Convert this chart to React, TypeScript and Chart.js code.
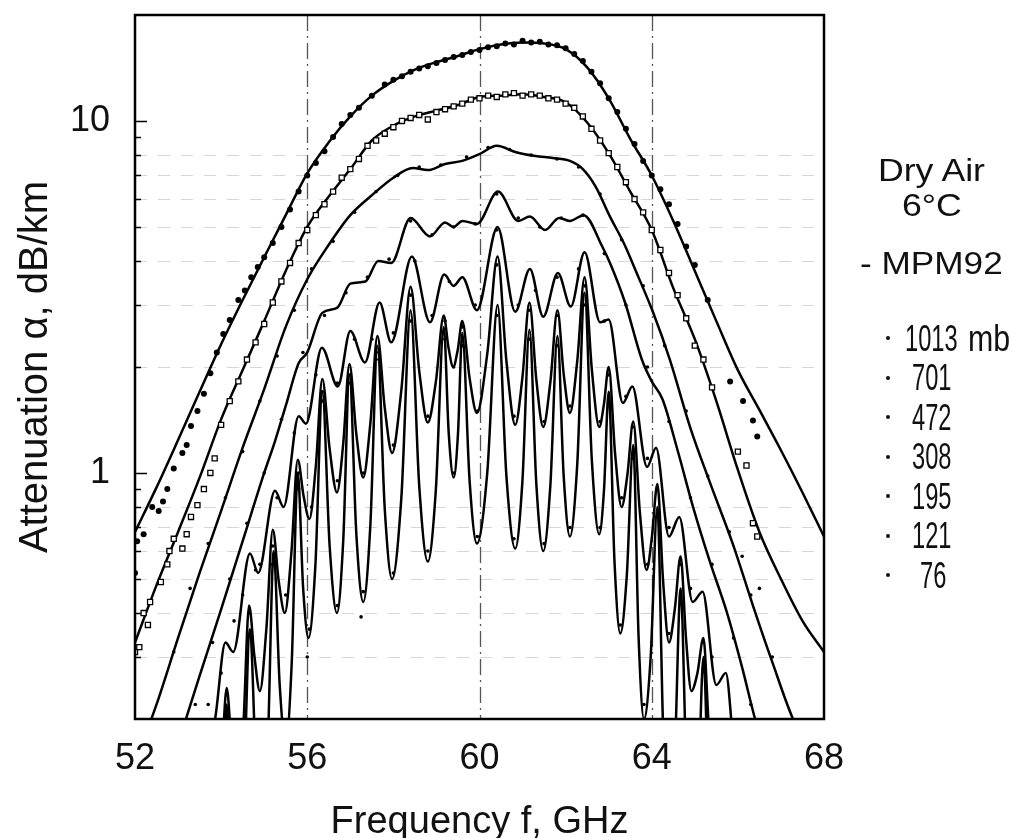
import React, { useEffect, useRef } from "react";
import { Chart, registerables } from "chart.js";

Chart.register(...registerables);

const FONT = "'Liberation Sans', Arial, Helvetica, sans-serif";

// ---- axes ----
const xMin = 52;
const xMax = 68;
const yMin = 0.2;
const yMax = 20;
const xTickValues = [52, 56, 60, 64, 68];
const xGridValues = [56, 60, 64];
const yLabelValues = [1, 10];
const yMinorValues = [0.3, 0.4, 0.5, 0.6, 0.7, 0.8, 0.9, 2, 3, 4, 5, 6, 7, 8, 9];
const yGridValues = [0.3, 0.4, 0.5, 0.6, 0.7, 0.8, 2, 3, 4, 5, 6, 7, 8];

// ---- MPM92 model curves (frequency GHz, attenuation dB/km) ----
const fM1013 = [52, 52.5, 53, 53.5, 54, 54.5, 55, 55.5, 56, 56.5, 57, 57.5, 58, 58.5, 59, 59.5, 60, 60.5, 61, 61.5, 62, 62.5, 63, 63.5, 64, 64.5, 65, 65.5, 66, 66.5, 67, 67.5, 68];
const aM1013 = [0.68, 0.91, 1.24, 1.7, 2.32, 3.1, 4.1, 5.4, 7.1, 8.7, 10.3, 11.8, 13.0, 14.0, 14.7, 15.3, 16.0, 16.5, 16.7, 16.6, 16.0, 14.2, 11.6, 8.9, 7.0, 5.2, 3.75, 2.7, 1.96, 1.51, 1.16, 0.88, 0.66];

const fM701 = [52, 52.5, 53, 53.5, 54, 54.5, 55, 55.5, 56, 56.5, 57, 57.5, 58, 58.5, 59, 59.5, 60, 60.5, 61, 61.5, 62, 62.5, 63, 63.5, 64, 64.5, 65, 65.5, 66, 66.5, 67, 67.5, 68];
const aM701 = [0.33, 0.48, 0.68, 0.97, 1.42, 1.96, 2.7, 3.75, 5.0, 6.1, 7.3, 8.8, 9.7, 10.3, 10.7, 11.1, 11.7, 11.8, 11.9, 11.7, 11.3, 9.9, 8.1, 6.3, 4.9, 3.35, 2.4, 1.6, 1.02, 0.68, 0.5, 0.38, 0.31];

const fM472 = [52, 52.5, 53, 53.5, 54, 54.5, 55, 55.5, 56, 56.5, 57, 57.5, 58, 58.45, 58.8, 59.2, 59.6, 60.0, 60.4, 60.85, 61.3, 61.7, 62.1, 62.4, 62.7, 63.03, 63.35, 63.65, 64.03, 64.42, 64.89, 65.35, 65.9, 66.35, 66.8, 67.28, 67.7, 68];
const aM472 = [0.15, 0.22, 0.34, 0.52, 0.78, 1.18, 1.73, 2.6, 3.55, 4.45, 5.4, 6.15, 6.9, 7.35, 7.25, 7.55, 7.7, 8.05, 8.5, 8.15, 7.95, 7.85, 7.7, 7.3, 6.5, 5.35, 4.5, 3.7, 2.86, 2.1, 1.35, 0.94, 0.62, 0.42, 0.29, 0.2, 0.16, 0.14];

const fM308 = [53, 53.5, 54, 54.5, 55, 55.25, 55.5, 55.8, 56.0, 56.35, 56.7, 57.0, 57.35, 57.65, 57.95, 58.4, 58.85, 59.2, 59.4, 59.6, 59.94, 60.43, 60.9, 61.17, 61.52, 61.85, 62.1, 62.42, 62.85, 63.05, 63.38, 63.77, 64.0, 64.25, 64.6, 64.96, 65.35, 65.75, 66.1, 66.4, 66.8];
const aM308 = [0.17, 0.265, 0.41, 0.64, 1.0, 1.23, 1.55, 2.05, 2.2, 2.85, 2.95, 3.45, 3.5, 4.0, 3.95, 5.3, 4.7, 5.15, 5.0, 5.2, 5.1, 6.3, 5.2, 5.35, 4.9, 5.3, 5.2, 5.4, 4.4, 3.9, 3.05, 2.1, 1.82, 1.62, 1.16, 0.8, 0.56, 0.4, 0.28, 0.2, 0.14];

const fM195 = [53.6, 53.86, 54.1, 54.28, 54.67, 54.86, 55.25, 55.45, 55.8, 55.97, 56.34, 56.71, 57.0, 57.34, 57.68, 57.95, 58.43, 58.85, 59.18, 59.4, 59.6, 59.94, 60.42, 60.83, 61.17, 61.48, 61.82, 62.12, 62.44, 62.8, 63.0, 63.33, 63.55, 63.89, 64.1, 64.4, 64.64, 64.95, 65.18, 65.5, 65.72, 65.9, 66.1];
const aM195 = [0.15, 0.2, 0.33, 0.31, 0.59, 0.52, 0.89, 0.8, 1.45, 1.38, 2.27, 1.76, 2.53, 2.06, 3.05, 2.35, 4.12, 2.68, 3.66, 3.4, 3.6, 2.9, 5.0, 2.87, 3.8, 2.78, 3.7, 2.97, 4.24, 2.68, 2.73, 1.58, 1.76, 1.04, 1.18, 0.66, 0.75, 0.43, 0.46, 0.25, 0.27, 0.17, 0.12];

const m121: [number, number][] = [
  [53.9, 0.12], [54.015, 0.157], [54.13, 0.245], [54.255, 0.157], [54.38, 0.12], [54.515, 0.19], [54.65, 0.42], [54.775, 0.3], [54.9, 0.24], [55.05, 0.36],
  [55.2, 0.69], [55.34, 0.49], [55.48, 0.4], [55.63, 0.59], [55.78, 1.09], [55.915, 0.86], [56.05, 0.74], [56.2, 1.05], [56.35, 1.85], [56.52, 1.17],
  [56.69, 0.88], [56.835, 1.21], [56.98, 2.04], [57.14, 1.29], [57.3, 0.97], [57.465, 1.38], [57.63, 2.45], [57.8, 1.53], [57.97, 1.14], [58.185, 1.72],
  [58.4, 3.38], [58.6, 1.95], [58.8, 1.39], [58.985, 1.81], [59.17, 2.8], [59.28, 2.27], [59.39, 2.0], [59.495, 2.24], [59.6, 2.7], [59.77, 1.86],
  [59.94, 1.48], [60.18, 2.18], [60.42, 4.12], [60.625, 2.08], [60.83, 1.37], [60.995, 1.86], [61.16, 3.05], [61.32, 1.84], [61.48, 1.35], [61.645, 1.81],
  [61.81, 2.9], [61.955, 1.91], [62.1, 1.48], [62.27, 2.08], [62.44, 3.6], [62.61, 1.96], [62.78, 1.35], [62.89, 1.57], [63.0, 2.0], [63.15, 1.13],
  [63.3, 0.8], [63.435, 0.99], [63.57, 1.4], [63.725, 0.77], [63.88, 0.53], [64.005, 0.66], [64.13, 0.93], [64.265, 0.49], [64.4, 0.33], [64.535, 0.41],
  [64.67, 0.58], [64.795, 0.34], [64.92, 0.24], [65.06, 0.27], [65.2, 0.34], [65.325, 0.19], [65.45, 0.13], [65.6, 0.143], [65.75, 0.17], [65.875, 0.105],
  [66.0, 0.08],
];

const m76: [number, number][] = [
  [53.95, 0.08], [54.04, 0.108], [54.13, 0.22], [54.24, 0.098], [54.35, 0.07], [54.51, 0.114], [54.67, 0.36], [54.81, 0.147], [54.95, 0.1], [55.085, 0.171],
  [55.22, 0.6], [55.36, 0.25], [55.5, 0.17], [55.64, 0.29], [55.78, 1.0], [55.905, 0.47], [56.03, 0.34], [56.19, 0.55], [56.35, 1.7], [56.52, 0.62],
  [56.69, 0.4], [56.835, 0.64], [56.98, 1.9], [57.14, 0.67], [57.3, 0.43], [57.465, 0.71], [57.63, 2.3], [57.8, 0.79], [57.97, 0.5], [58.185, 0.85],
  [58.4, 2.9], [58.6, 0.92], [58.8, 0.56], [58.985, 0.89], [59.17, 2.6], [59.285, 1.3], [59.4, 0.97], [59.5, 1.29], [59.6, 2.5], [59.77, 0.95],
  [59.94, 0.63], [60.18, 1.0], [60.42, 3.0], [60.625, 0.98], [60.83, 0.61], [60.995, 0.94], [61.16, 2.55], [61.32, 0.93], [61.48, 0.6], [61.645, 0.92],
  [61.81, 2.45], [61.955, 0.98], [62.1, 0.66], [62.27, 1.06], [62.44, 3.25], [62.61, 1.08], [62.78, 0.67], [62.89, 0.89], [63.0, 1.7], [63.135, 0.56],
  [63.27, 0.35], [63.42, 0.51], [63.57, 1.2], [63.695, 0.34], [63.82, 0.2], [63.975, 0.3], [64.13, 0.8], [64.265, 0.187], [64.4, 0.1], [64.535, 0.159],
  [64.67, 0.47], [64.81, 0.137], [64.95, 0.08], [65.075, 0.119], [65.2, 0.3], [65.34, 0.097], [65.48, 0.06], [65.615, 0.085], [65.75, 0.19], [65.875, 0.075],
  [66.0, 0.05],
];

// ---- measured data ----
const fP1013 = [52.0, 52.05, 52.2, 52.4, 52.55, 52.65, 52.75, 52.9, 53.1, 53.2, 53.3, 53.45, 53.6, 53.75, 53.9, 54.05, 54.2, 54.4, 54.55, 54.7, 54.85, 55.0, 55.2, 55.4, 55.6, 55.8, 56.0, 56.2, 56.4, 56.6, 56.8, 57.0, 57.2, 57.5, 57.8, 58.0, 58.2, 58.4, 58.6, 58.8, 59.0, 59.2, 59.4, 59.6, 59.8, 60.0, 60.2, 60.4, 60.6, 60.8, 61.0, 61.2, 61.4, 61.6, 61.8, 62.0, 62.2, 62.4, 62.6, 62.8, 63.0, 63.2, 63.4, 63.6, 63.8, 64.0, 64.2, 64.4, 64.6, 64.8, 65.0, 65.3, 65.82, 66.12, 66.35, 66.45];
const aP1013 = [0.52, 0.64, 0.67, 0.8, 0.78, 0.83, 0.9, 1.03, 1.14, 1.2, 1.36, 1.5, 1.68, 1.92, 2.2, 2.48, 2.72, 3.1, 3.3, 3.6, 3.85, 4.1, 4.5, 5.0, 5.6, 6.3, 7.0, 7.6, 8.2, 9.0, 9.8, 10.4, 10.9, 11.8, 12.7, 13.1, 13.4, 13.8, 14.1, 14.3, 14.6, 14.9, 15.2, 15.4, 15.7, 15.9, 16.2, 16.3, 16.6, 16.5, 16.9, 16.7, 16.8, 16.5, 16.4, 16.1, 15.5, 14.8, 13.8, 12.8, 11.6, 10.6, 9.5, 8.6, 7.7, 7.0, 6.4, 5.8, 5.1, 4.4, 3.9, 3.1, 1.82, 1.6, 1.41, 1.27];

const fP701 = [52.0, 52.1, 52.2, 52.3, 52.35, 52.6, 52.75, 52.8, 52.9, 53.1, 53.2, 53.3, 53.45, 53.6, 53.75, 53.85, 54.0, 54.2, 54.4, 54.6, 54.8, 55.0, 55.2, 55.4, 55.6, 55.8, 56.0, 56.2, 56.4, 56.6, 56.8, 57.0, 57.2, 57.4, 57.6, 57.8, 58.0, 58.2, 58.4, 58.6, 58.8, 59.0, 59.2, 59.4, 59.6, 59.8, 60.0, 60.2, 60.4, 60.6, 60.8, 61.0, 61.2, 61.4, 61.6, 61.8, 62.0, 62.2, 62.4, 62.6, 62.8, 63.0, 63.2, 63.4, 63.6, 63.8, 64.0, 64.2, 64.4, 64.6, 64.8, 65.0, 65.2, 65.4, 66.0, 66.2, 66.35, 66.45];
const aP701 = [0.31, 0.32, 0.4, 0.37, 0.43, 0.49, 0.55, 0.6, 0.65, 0.61, 0.67, 0.75, 0.81, 0.9, 1.0, 1.1, 1.37, 1.6, 1.82, 2.1, 2.35, 2.65, 3.05, 3.5, 3.95, 4.5, 4.9, 5.4, 5.8, 6.3, 6.9, 7.3, 7.8, 8.5, 8.8, 9.2, 9.6, 10.0, 10.2, 10.4, 10.1, 10.6, 10.8, 11.0, 11.2, 11.5, 11.6, 11.8, 11.7, 11.9, 12.0, 11.8, 11.9, 11.8, 11.6, 11.5, 11.2, 10.9, 10.3, 9.5, 8.8, 8.1, 7.4, 6.7, 6.0, 5.5, 4.9, 4.3, 3.7, 3.2, 2.75, 2.3, 2.1, 1.75, 1.15, 1.05, 0.72, 0.66];

const fP472 = [52.9, 53.28, 53.7, 54.1, 54.5, 54.9, 55.3, 55.7, 56.1, 56.6, 57.1, 57.6, 58.1, 58.6, 59.1, 59.7, 60.2, 60.7, 61.2, 61.8, 62.3, 62.8, 63.3, 63.8, 64.3, 64.8, 65.3, 65.8, 66.1, 66.3, 66.5, 66.8];
const aP472 = [0.31, 0.47, 0.63, 0.85, 1.15, 1.6, 2.15, 2.9, 3.8, 4.55, 5.5, 6.3, 7.0, 7.4, 7.5, 7.9, 8.4, 8.3, 8.0, 7.8, 7.4, 6.2, 4.6, 3.4, 2.3, 1.5, 0.98, 0.68, 0.58, 0.45, 0.47, 0.3];

const fP308 = [53.4, 53.8, 54.2, 54.6, 55.0, 55.4, 55.9, 56.4, 56.9, 57.4, 57.9, 58.4, 58.9, 59.4, 59.9, 60.4, 60.9, 61.4, 61.9, 62.4, 62.9, 63.4, 63.9, 64.4, 64.9, 65.4, 65.9, 66.3];
const aP308 = [0.22, 0.33, 0.5, 0.72, 1.0, 1.42, 2.2, 2.8, 3.25, 3.6, 4.05, 5.2, 4.75, 5.0, 5.1, 6.2, 5.3, 5.0, 5.3, 5.4, 4.2, 3.0, 2.0, 1.4, 0.85, 0.55, 0.34, 0.22];

const fP195 = [53.7, 54.0, 54.3, 54.5, 54.8, 54.9, 55.3, 55.7, 56.2, 56.7, 57.1, 57.5, 58.0, 58.5, 58.9, 59.3, 59.9, 60.4, 60.9, 61.3, 61.8, 62.3, 62.9, 63.4, 63.9, 64.4, 64.9, 65.4];
const aP195 = [0.22, 0.27, 0.38, 0.45, 0.53, 0.55, 0.85, 1.3, 1.9, 1.8, 2.4, 2.4, 2.5, 4.0, 2.8, 3.5, 3.0, 4.9, 3.0, 3.3, 3.6, 3.8, 2.7, 1.65, 1.1, 0.7, 0.47, 0.3];

const fP121 = [54.2, 54.65, 55.2, 55.5, 55.8, 56.1, 56.35, 56.7, 57.0, 57.3, 57.6, 58.0, 58.4, 58.8, 59.2, 59.4, 59.6, 59.95, 60.4, 60.8, 61.15, 61.5, 61.8, 62.1, 62.45, 62.8, 63.0, 63.3, 63.55, 63.9, 64.13, 64.4, 64.67, 65.2];
const aP121 = [0.2, 0.4, 0.62, 0.45, 1.0, 0.8, 1.7, 0.95, 1.9, 1.0, 2.2, 1.2, 3.2, 1.45, 2.7, 2.0, 2.6, 1.5, 3.9, 1.45, 2.9, 1.4, 2.8, 1.55, 3.4, 1.4, 1.9, 0.85, 1.35, 0.55, 0.9, 0.35, 0.55, 0.33];

const fP76 = [55.2, 55.8, 56.0, 56.05, 56.35, 56.7, 57.0, 57.25, 57.3, 57.6, 58.0, 58.4, 58.8, 59.2, 59.4, 59.6, 59.95, 60.4, 60.8, 61.15, 61.5, 61.8, 62.1, 62.45, 62.8, 63.0, 63.27, 63.55, 63.82, 64.13, 64.67, 65.2];
const aP76 = [0.55, 0.9, 0.3, 0.36, 1.6, 0.42, 1.8, 0.39, 0.46, 2.1, 0.52, 2.7, 0.6, 2.4, 1.0, 2.3, 0.66, 2.8, 0.65, 2.4, 0.63, 2.3, 0.7, 3.0, 0.7, 1.6, 0.37, 1.1, 0.22, 0.75, 0.44, 0.28];

// ---- legend text ----
const legendPressures = ["1013", "701", "472", "308", "195", "121", "76"];

const toXY = (f: number[], a: number[]) => f.map((x, i) => ({ x, y: a[i] }));
const pairsXY = (p: [number, number][]) => p.map(([x, y]) => ({ x, y }));

const modelLine = (label: string, data: { x: number; y: number }[]) => ({
  label,
  data,
  borderColor: "#000",
  borderWidth: 2.5,
  pointRadius: 0,
  pointHitRadius: 0,
  fill: false,
  cubicInterpolationMode: "monotone",
  clip: 0,
  order: 2,
});

const measured = (label: string, f: number[], a: number[], style: any) => ({
  label,
  data: toXY(f, a),
  showLine: false,
  clip: 0,
  order: 1,
  ...style,
});

const framePlugin = {
  id: "frameGridTicks",
  beforeDatasetsDraw(chart: any) {
    const { ctx, chartArea: ca, scales } = chart;
    const xs = scales.x;
    const ys = scales.y;
    ctx.save();
    ctx.strokeStyle = "rgba(0,0,0,0.16)";
    ctx.lineWidth = 1;
    ctx.setLineDash([12, 11]);
    for (const v of yGridValues) {
      const y = Math.round(ys.getPixelForValue(v)) + 0.5;
      ctx.beginPath();
      ctx.moveTo(ca.left, y);
      ctx.lineTo(ca.right, y);
      ctx.stroke();
    }
    ctx.strokeStyle = "#555";
    ctx.lineWidth = 1.3;
    ctx.setLineDash([16, 5, 2, 5]);
    for (const v of xGridValues) {
      const x = Math.round(xs.getPixelForValue(v)) + 0.5;
      ctx.beginPath();
      ctx.moveTo(x, ca.top);
      ctx.lineTo(x, ca.bottom);
      ctx.stroke();
    }
    ctx.restore();
  },
  afterDatasetsDraw(chart: any) {
    const { ctx, chartArea: ca, scales } = chart;
    const ys = scales.y;
    ctx.save();
    ctx.setLineDash([]);
    ctx.strokeStyle = "#000";
    ctx.lineWidth = 1.5;
    for (const v of yMinorValues) {
      const y = Math.round(ys.getPixelForValue(v)) + 0.5;
      ctx.beginPath();
      ctx.moveTo(ca.left, y);
      ctx.lineTo(ca.left + 6, y);
      ctx.stroke();
    }
    for (const v of yLabelValues) {
      const y = Math.round(ys.getPixelForValue(v)) + 0.5;
      ctx.beginPath();
      ctx.moveTo(ca.left, y);
      ctx.lineTo(ca.left + 12, y);
      ctx.stroke();
    }
    ctx.lineWidth = 2.5;
    ctx.strokeRect(ca.left, ca.top, ca.right - ca.left, ca.bottom - ca.top);
    ctx.restore();
  },
};

function ChartCanvas() {
  const ref = useRef<HTMLCanvasElement | null>(null);
  useEffect(() => {
    if (!ref.current) return;
    const dot = (r: number) => ({
      pointStyle: "circle",
      pointRadius: r,
      pointBackgroundColor: "#000",
      pointBorderColor: "#000",
      pointBorderWidth: 0,
    });
    const chart = new Chart(ref.current, {
      type: "line",
      data: {
        datasets: [
          measured("1013 mb data", fP1013, aP1013, dot(3.0)),
          measured("701 mb data", fP701, aP701, {
            pointStyle: "rect",
            pointRadius: 3.6,
            pointBackgroundColor: "#fff",
            pointBorderColor: "#000",
            pointBorderWidth: 1.3,
          }),
          measured("472 mb data", fP472, aP472, dot(1.8)),
          measured("308 mb data", fP308, aP308, dot(1.8)),
          measured("195 mb data", fP195, aP195, dot(1.8)),
          measured("121 mb data", fP121, aP121, dot(1.8)),
          measured("76 mb data", fP76, aP76, dot(1.8)),
          modelLine("1013 mb", toXY(fM1013, aM1013)),
          modelLine("701 mb", toXY(fM701, aM701)),
          modelLine("472 mb", toXY(fM472, aM472)),
          modelLine("308 mb", toXY(fM308, aM308)),
          modelLine("195 mb", toXY(fM195, aM195)),
          modelLine("121 mb", pairsXY(m121)),
          modelLine("76 mb", pairsXY(m76)),
        ] as any,
      },
      options: {
        animation: false,
        responsive: false,
        devicePixelRatio: 1,
        events: [],
        layout: { padding: { left: 0, top: 15, right: 188, bottom: 0 } },
        plugins: { legend: { display: false }, tooltip: { enabled: false } },
        scales: {
          x: {
            type: "linear",
            min: xMin,
            max: xMax,
            afterBuildTicks: (s: any) => {
              s.ticks = xTickValues.map((v) => ({ value: v }));
            },
            afterFit: (s: any) => {
              s.height = 119;
              s.paddingLeft = 0;
              s.paddingRight = 0;
            },
            grid: { display: false, drawTicks: false },
            border: { display: false },
            ticks: {
              autoSkip: false,
              maxRotation: 0,
              padding: 18,
              color: "#111",
              font: { family: FONT, size: 36 },
              callback: (v: any) => String(v),
            },
            title: {
              display: true,
              text: "Frequency f, GHz",
              color: "#111",
              font: { family: FONT, size: 38, lineHeight: 1 },
              padding: { top: 0, bottom: -4 },
            },
          },
          y: {
            type: "logarithmic",
            min: yMin,
            max: yMax,
            afterBuildTicks: (s: any) => {
              s.ticks = yLabelValues.map((v) => ({ value: v }));
            },
            afterFit: (s: any) => {
              s.width = 135;
              s.paddingTop = 0;
              s.paddingBottom = 0;
            },
            grid: { display: false, drawTicks: false },
            border: { display: false },
            ticks: {
              padding: 25,
              color: "#111",
              font: { family: FONT, size: 36 },
              callback: (v: any) => String(v),
            },
            title: {
              display: true,
              text: "Attenuation α, dB/km",
              color: "#111",
              font: { family: FONT, size: 40, lineHeight: 1 },
              padding: { top: 16, bottom: 0 },
            },
          },
        },
      } as any,
      plugins: [framePlugin],
    });
    return () => chart.destroy();
  }, []);
  return <canvas ref={ref} width={1012} height={838} style={{ display: "block" }} />;
}

const txt = (fs: number, baseline: number): React.CSSProperties => ({
  position: "absolute",
  top: baseline - 0.8465 * fs,
  fontFamily: FONT,
  fontSize: fs,
  lineHeight: 1,
  whiteSpace: "nowrap",
  color: "#111",
});

export default function App() {
  return (
    <div style={{ position: "absolute", left: 0, top: 0, width: 1012, height: 838, background: "#fff", overflow: "hidden" }}>
      <ChartCanvas />
      <div style={{ ...txt(31, 181), left: 878, transform: "scaleX(1.15)", transformOrigin: "left top" }}>Dry Air</div>
      <div style={{ ...txt(31, 216), left: 902, transform: "scaleX(1.15)", transformOrigin: "left top" }}>6°C</div>
      <div style={{ ...txt(32, 274), left: 860, transform: "scaleX(1.1)", transformOrigin: "left top" }}>- MPM92</div>
      {legendPressures.map((p, i) => {
        const base = 351 + i * 39.5;
        return (
          <React.Fragment key={p}>
            <div style={{ position: "absolute", left: 886, top: base - 15, width: 4, height: 4, borderRadius: 2, background: "#111" }} />
            <div style={{ ...txt(37, base), left: i === 0 ? 905 : i === 6 ? 920 : 912, transform: "scaleX(0.64)", transformOrigin: "left top" }}>{p}</div>
            {i === 0 ? (
              <div style={{ ...txt(37, base), left: 968, transform: "scaleX(0.82)", transformOrigin: "left top" }}>mb</div>
            ) : null}
          </React.Fragment>
        );
      })}
    </div>
  );
}
